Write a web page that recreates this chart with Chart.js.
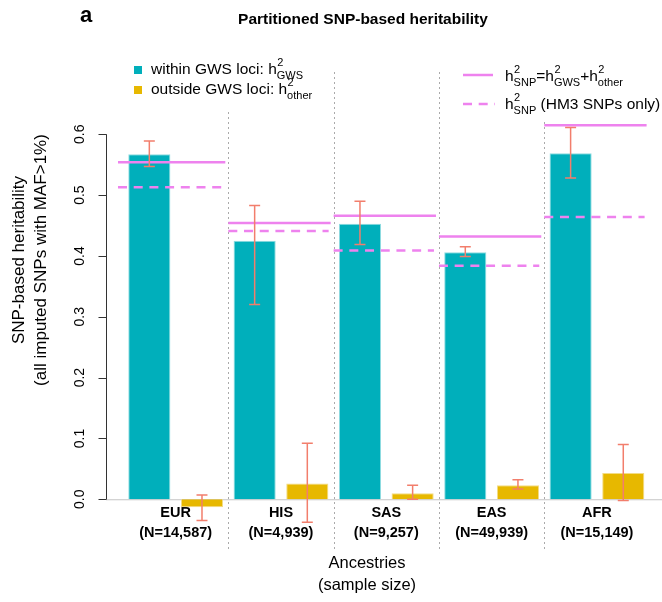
<!DOCTYPE html>
<html>
<head>
<meta charset="utf-8">
<title>Partitioned SNP-based heritability</title>
<script src="https://cdn.jsdelivr.net/npm/chart.js@4.4.0/dist/chart.umd.min.js"></script>
<style>
  body { margin: 0; background: #fff; }
  canvas { display: block; }
</style>
</head>
<body>
<canvas id="h2Chart" width="662" height="602"></canvas>
<script>
// partitioned heritability per ancestry
const ancestries = ["EUR", "HIS", "SAS", "EAS", "AFR"];
const sampleSizes = ["(N=14,587)", "(N=4,939)", "(N=9,257)", "(N=49,939)", "(N=15,149)"];

const h2Gws = [0.567, 0.425, 0.453, 0.406, 0.569];
const h2GwsLow = [0.547, 0.320, 0.419, 0.399, 0.528];
const h2GwsHigh = [0.589, 0.483, 0.490, 0.415, 0.611];

const h2Other = [-0.013, 0.026, 0.010, 0.023, 0.043];
const h2OtherLow = [-0.035, -0.038, 0.000, 0.017, -0.002];
const h2OtherHigh = [0.007, 0.092, 0.023, 0.032, 0.090];

const h2Snp = [0.554, 0.454, 0.466, 0.432, 0.615];
const h2SnpHm3 = [0.513, 0.441, 0.409, 0.384, 0.464];

const yTicks = [0, 0.1, 0.2, 0.3, 0.4, 0.5, 0.6];
const yTickLabels = ["0.0", "0.1", "0.2", "0.3", "0.4", "0.5", "0.6"];

const FONT = '"Liberation Sans", Arial, Helvetica, sans-serif';
const TEAL = "#00AFBB";
const GOLD = "#E7B800";
const VIOLET = "#EE82EE";
const ERR = "#F27E6C";

// h with superscript 2 and a subscript, returns the x after it
function drawH2(ctx, x, y, sub, size) {
  ctx.textAlign = "left";
  ctx.textBaseline = "middle";
  ctx.font = size + "px " + FONT;
  ctx.fillText("h", x, y);
  x += ctx.measureText("h").width;
  const small = Math.round(size * 0.72);
  ctx.font = small + "px " + FONT;
  ctx.fillText("2", x + 0.5, y - size * 0.45);
  ctx.fillText(sub, x, y + size * 0.38);
  const w = Math.max(ctx.measureText("2").width, ctx.measureText(sub).width);
  ctx.font = size + "px " + FONT;
  return x + w;
}

function drawText(ctx, txt, x, y) {
  ctx.textAlign = "left";
  ctx.textBaseline = "middle";
  ctx.fillText(txt, x, y);
  return x + ctx.measureText(txt).width;
}

const decorations = {
  id: "decorations",
  beforeDatasetsDraw(chart) {
    const { ctx, scales: { x, y } } = chart;
    const step = x.getPixelForValue(1) - x.getPixelForValue(0);
    const y0 = y.getPixelForValue(0);
    ctx.save();
    // zero line
    ctx.strokeStyle = "#c4c4c4";
    ctx.lineWidth = 1;
    ctx.beginPath();
    ctx.moveTo(106, y0 + 0.5);
    ctx.lineTo(662, y0 + 0.5);
    ctx.stroke();
    // dotted separators between ancestries
    ctx.strokeStyle = "#aaaaaa";
    ctx.setLineDash([2, 3]);
    for (let i = 0; i < ancestries.length - 1; i++) {
      const xd = Math.round(x.getPixelForValue(i) + step / 2) + 0.5;
      ctx.beginPath();
      ctx.moveTo(xd, 72);
      ctx.lineTo(xd, 552);
      ctx.stroke();
    }
    ctx.restore();
  },
  afterDatasetsDraw(chart) {
    const { ctx, scales: { x, y } } = chart;
    const step = x.getPixelForValue(1) - x.getPixelForValue(0);
    ctx.save();
    // total h2 lines per ancestry
    ctx.strokeStyle = VIOLET;
    ctx.lineWidth = 2.5;
    ancestries.forEach((a, i) => {
      const left = x.getPixelForValue(i) - step / 2;
      const right = left + step;
      ctx.setLineDash([]);
      ctx.beginPath();
      ctx.moveTo(i === 0 ? left - 5 : left, y.getPixelForValue(h2Snp[i]));
      ctx.lineTo(right - 3, y.getPixelForValue(h2Snp[i]));
      ctx.stroke();
      ctx.setLineDash([9, 6.7]);
      ctx.beginPath();
      ctx.moveTo(i === 0 ? left - 5 : left, y.getPixelForValue(h2SnpHm3[i]));
      ctx.lineTo(right - 5, y.getPixelForValue(h2SnpHm3[i]));
      ctx.stroke();
    });
    // error bars
    ctx.setLineDash([]);
    ctx.strokeStyle = ERR;
    ctx.lineWidth = 1.5;
    const bands = [[h2GwsLow, h2GwsHigh], [h2OtherLow, h2OtherHigh]];
    bands.forEach((band, d) => {
      chart.getDatasetMeta(d).data.forEach((bar, i) => {
        const lo = y.getPixelForValue(band[0][i]);
        const hi = y.getPixelForValue(band[1][i]);
        ctx.beginPath();
        ctx.moveTo(bar.x, lo);
        ctx.lineTo(bar.x, hi);
        ctx.moveTo(bar.x - 5.5, lo);
        ctx.lineTo(bar.x + 5.5, lo);
        ctx.moveTo(bar.x - 5.5, hi);
        ctx.lineTo(bar.x + 5.5, hi);
        ctx.stroke();
      });
    });
    ctx.restore();
  },
  afterDraw(chart) {
    const { ctx, scales: { y } } = chart;
    ctx.save();
    ctx.fillStyle = "#000";
    ctx.strokeStyle = "#333";
    ctx.lineWidth = 1;

    // y axis
    const axisX = 106.5;
    ctx.beginPath();
    ctx.moveTo(axisX, y.getPixelForValue(0));
    ctx.lineTo(axisX, y.getPixelForValue(0.6));
    yTicks.forEach(v => {
      const py = Math.round(y.getPixelForValue(v)) + 0.5;
      ctx.moveTo(axisX, py);
      ctx.lineTo(axisX - 8, py);
    });
    ctx.stroke();
    ctx.font = "14px " + FONT;
    ctx.textAlign = "center";
    ctx.textBaseline = "middle";
    yTicks.forEach((v, i) => {
      ctx.save();
      ctx.translate(80, y.getPixelForValue(v));
      ctx.rotate(-Math.PI / 2);
      ctx.fillText(yTickLabels[i], 0, 0);
      ctx.restore();
    });

    // y title
    ctx.save();
    ctx.translate(0, 260);
    ctx.rotate(-Math.PI / 2);
    ctx.font = "17px " + FONT;
    ctx.fillText("SNP-based heritability", 0, 19);
    ctx.fillText("(all imputed SNPs with MAF>1%)", 0, 41);
    ctx.restore();

    // x title
    ctx.font = "16.5px " + FONT;
    ctx.fillText("Ancestries", 367, 563);
    ctx.fillText("(sample size)", 367, 585);

    // panel letter and title
    ctx.font = "bold 22px " + FONT;
    ctx.fillText("a", 86, 16);
    ctx.font = "bold 15.5px " + FONT;
    ctx.fillText("Partitioned SNP-based heritability", 363, 20);

    // left legend
    ctx.fillStyle = "#fff";
    ctx.fillRect(118, 55, 195, 55);
    ctx.fillStyle = TEAL;
    ctx.fillRect(134, 66, 8, 8);
    ctx.fillStyle = GOLD;
    ctx.fillRect(134, 86, 8, 8);
    ctx.fillStyle = "#000";
    ctx.font = "15.5px " + FONT;
    let lx = drawText(ctx, "within GWS loci: ", 151, 70);
    drawH2(ctx, lx, 70, "GWS", 15.5);
    ctx.font = "15.5px " + FONT;
    lx = drawText(ctx, "outside GWS loci: ", 151, 90);
    drawH2(ctx, lx, 90, "other", 15.5);

    // right legend
    ctx.fillStyle = "#fff";
    ctx.fillRect(452, 55, 210, 66);
    ctx.strokeStyle = VIOLET;
    ctx.lineWidth = 2.5;
    ctx.beginPath();
    ctx.moveTo(463, 75);
    ctx.lineTo(493, 75);
    ctx.stroke();
    ctx.setLineDash([9, 6.7]);
    ctx.beginPath();
    ctx.moveTo(463, 104);
    ctx.lineTo(495, 104);
    ctx.stroke();
    ctx.setLineDash([]);
    ctx.fillStyle = "#000";
    ctx.font = "15.5px " + FONT;
    let rx = drawH2(ctx, 505, 77, "SNP", 15.5);
    rx = drawText(ctx, "=", rx, 77);
    rx = drawH2(ctx, rx, 77, "GWS", 15.5);
    rx = drawText(ctx, "+", rx, 77);
    drawH2(ctx, rx, 77, "other", 15.5);
    rx = drawH2(ctx, 505, 105, "SNP", 15.5);
    drawText(ctx, " (HM3 SNPs only)", rx, 105);
    ctx.restore();
  }
};

const ctx = document.getElementById("h2Chart").getContext("2d");
new Chart(ctx, {
  type: "bar",
  data: {
    labels: ancestries.map((a, i) => [a, sampleSizes[i]]),
    datasets: [
      {
        label: "within GWS loci",
        data: h2Gws,
        backgroundColor: TEAL,
        borderColor: "#8fdbe0",
        borderWidth: 1,
        clip: false
      },
      {
        label: "outside GWS loci",
        data: h2Other,
        backgroundColor: GOLD,
        borderColor: "#f3dc85",
        borderWidth: 1,
        clip: false
      }
    ]
  },
  options: {
    responsive: false,
    animation: false,
    categoryPercentage: 1,
    barPercentage: 0.8,
    layout: { padding: { left: 123, right: 12.4, top: 61.3, bottom: 0 } },
    plugins: {
      legend: { display: false },
      tooltip: { enabled: false }
    },
    scales: {
      x: {
        grid: { display: false },
        border: { display: false },
        ticks: {
          color: "#000",
          padding: -7,
          maxRotation: 0,
          autoSkip: false,
          font: { family: FONT, size: 14.5, weight: "bold", lineHeight: 1.38 }
        },
        afterFit(scale) { scale.height = 99.7; }
      },
      y: {
        display: false,
        min: -0.005,
        max: 0.72
      }
    }
  },
  plugins: [decorations]
});
</script>
</body>
</html>
